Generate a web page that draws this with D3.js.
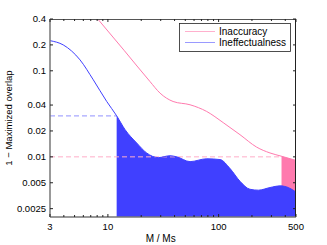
<!DOCTYPE html>
<html>
<head>
<meta charset="utf-8">
<script src="https://cdn.jsdelivr.net/npm/d3@7"></script>
<style>
body { margin: 0; background: #fff; }
text { font-family: "Liberation Sans", Arial, sans-serif; }
</style>
</head>
<body>
<svg id="chart"></svg>
<script>
var svg_width = 327
var svg_height = 245
var margin = { top: 19, right: 31, bottom: 28, left: 50 }

// Ineffectualness (blue)
var blueM = [3, 3.95, 5.6, 7.38, 9.76, 12, 14.3, 18.2, 22.4, 28.5, 36.4, 41.9, 55.2, 78, 103, 127, 156, 192, 229, 291, 359, 426, 500]
var blueV = [0.224, 0.200, 0.134, 0.0786, 0.044, 0.030, 0.0207, 0.0145, 0.0111, 0.0098, 0.0103, 0.0100, 0.0088, 0.0095, 0.0093, 0.0073, 0.0052, 0.0042, 0.0041, 0.0044, 0.0046, 0.0044, 0.0039]

// Inaccuracy (pink)
var pinkM = [8.1, 14, 24, 29.6, 38.8, 55.2, 78, 110, 156, 220, 291, 372, 500]
var pinkV = [0.4, 0.173, 0.075, 0.055, 0.044, 0.0403, 0.0337, 0.025, 0.0181, 0.013, 0.0111, 0.01015, 0.0091]

var blueLimit = 0.03
var blueStart = 12
var pinkLimit = 0.01
var pinkStart = 370

var xMajor = [3, 10, 100, 500]
var xMinor = [4, 5, 6, 7, 8, 9, 20, 30, 40, 50, 60, 70, 80, 90, 200, 300, 400]
var yTicks = [0.0025, 0.005, 0.01, 0.02, 0.04, 0.1, 0.2, 0.4]
var legendNames = ["Inaccuracy", "Ineffectualness"]

var blueColor = "#4040ff"
var pinkColor = "#ff7aae"

var w = svg_width - margin.left - margin.right
var h = svg_height - margin.top - margin.bottom

var svg = d3.select("#chart")
.attr("width", svg_width)
.attr("height", svg_height)

var g = svg.append("g")
.attr("transform", "translate(" + margin.left + "," + margin.top + ")")

var x = d3.scaleLog().domain([3, 500]).range([0, w])
var y = d3.scaleLog().domain([0.002, 0.4]).range([h, 0])

var blueData = blueM.map(function(m, i) { return { m: m, v: blueV[i] } })
var pinkData = pinkM.map(function(m, i) { return { m: m, v: pinkV[i] } })

g.append("clipPath").attr("id", "plot")
.append("rect").attr("width", w).attr("height", h)
g.append("clipPath").attr("id", "blueclip")
.append("rect").attr("x", x(blueStart)).attr("width", w - x(blueStart)).attr("height", h)
g.append("clipPath").attr("id", "pinkclip")
.append("rect").attr("x", x(pinkStart)).attr("width", w - x(pinkStart)).attr("height", h)

var line = d3.line()
.x(function(d) { return x(d.m) })
.y(function(d) { return y(d.v) })
.curve(d3.curveMonotoneX)

var area = d3.area()
.x(function(d) { return x(d.m) })
.y0(h)
.y1(function(d) { return y(d.v) })
.curve(d3.curveMonotoneX)

// pink fill between pink curve and blue curve (blue fill drawn over it)
g.append("path")
.datum(pinkData)
.attr("clip-path", "url(#pinkclip)")
.attr("d", area)
.attr("fill", pinkColor)

g.append("path")
.datum(blueData)
.attr("clip-path", "url(#blueclip)")
.attr("d", area)
.attr("fill", blueColor)

// dashed limits
g.append("line")
.attr("x1", 0).attr("x2", x(blueStart))
.attr("y1", y(blueLimit)).attr("y2", y(blueLimit))
.attr("stroke", "#a8a8ff").attr("stroke-width", 1.2)
.attr("stroke-dasharray", "5,3")

g.append("line")
.attr("x1", 0).attr("x2", x(pinkStart))
.attr("y1", y(pinkLimit)).attr("y2", y(pinkLimit))
.attr("stroke", "#ffadc8").attr("stroke-width", 1)
.attr("stroke-dasharray", "5,3")

g.append("path")
.datum(blueData)
.attr("clip-path", "url(#plot)")
.attr("d", line)
.attr("fill", "none")
.attr("stroke", blueColor)
.attr("stroke-width", 1)

g.append("path")
.datum(pinkData)
.attr("clip-path", "url(#plot)")
.attr("d", line)
.attr("fill", "none")
.attr("stroke", pinkColor)
.attr("stroke-width", 1)

// frame
g.append("line").attr("x1", 0).attr("x2", w).attr("y1", 0.5).attr("y2", 0.5).attr("stroke", "#555")
g.append("line").attr("x1", w - 0.5).attr("x2", w - 0.5).attr("y1", 0).attr("y2", h).attr("stroke", "#222")
g.append("line").attr("x1", 0).attr("x2", w).attr("y1", h).attr("y2", h).attr("stroke", "#777").attr("stroke-width", 1.5)
g.append("line").attr("x1", 0).attr("x2", 0).attr("y1", 0).attr("y2", h).attr("stroke", "#777").attr("stroke-width", 1.5)

// x ticks
var xt = xMajor.map(function(v) { return { v: v, len: 3 } })
.concat(xMinor.map(function(v) { return { v: v, len: 2 } }))
g.selectAll(".xtb").data(xt).enter().append("line")
.attr("x1", function(d) { return x(d.v) }).attr("x2", function(d) { return x(d.v) })
.attr("y1", h).attr("y2", function(d) { return h - d.len })
.attr("stroke", "#222")
g.selectAll(".xtt").data(xt).enter().append("line")
.attr("x1", function(d) { return x(d.v) }).attr("x2", function(d) { return x(d.v) })
.attr("y1", 0).attr("y2", function(d) { return d.len })
.attr("stroke", "#222")
g.selectAll(".xl").data(xMajor).enter().append("text")
.attr("x", function(d) { return x(d) })
.attr("y", h + 13)
.attr("text-anchor", "middle")
.attr("font-size", "9.5px")
.text(function(d) { return d })

// y ticks
g.selectAll(".ytl").data(yTicks).enter().append("line")
.attr("x1", 0).attr("x2", 3)
.attr("y1", function(d) { return y(d) }).attr("y2", function(d) { return y(d) })
.attr("stroke", "#222")
g.selectAll(".ytr").data(yTicks).enter().append("line")
.attr("x1", w).attr("x2", w - 3)
.attr("y1", function(d) { return y(d) }).attr("y2", function(d) { return y(d) })
.attr("stroke", "#222")
g.selectAll(".yl").data(yTicks).enter().append("text")
.attr("x", -4)
.attr("y", function(d) { return y(d) + 3.3 })
.attr("text-anchor", "end")
.attr("font-size", "9.5px")
.text(function(d) { return d })

// axis titles
svg.append("text")
.attr("x", margin.left + x(30))
.attr("y", 242)
.attr("text-anchor", "middle")
.attr("font-size", "10px")
.text("M / Ms")

svg.append("text")
.attr("transform", "translate(12," + (margin.top + h / 2) + ") rotate(-90)")
.attr("text-anchor", "middle")
.attr("font-size", "9.5px")
.text("1 \u2212 Maximized overlap")

// legend
var lg = svg.append("g").attr("transform", "translate(179.5,23.5)")
lg.append("rect").attr("width", 111).attr("height", 28)
.attr("fill", "#fff").attr("stroke", "#222").attr("stroke-width", 0.8)
lg.selectAll(".ll").data(legendNames).enter().append("line")
.attr("x1", 5.5).attr("x2", 35.5)
.attr("y1", function(d, i) { return 8 + i * 11 }).attr("y2", function(d, i) { return 8 + i * 11 })
.attr("stroke", function(d, i) { return i == 0 ? "#ff9cc0" : "#8080ff" })
.attr("stroke-width", 0.8)
lg.selectAll(".lt").data(legendNames).enter().append("text")
.attr("x", 39.5)
.attr("y", function(d, i) { return 11.5 + i * 11 })
.attr("font-size", "10px")
.text(function(d) { return d })
</script>
</body>
</html>
